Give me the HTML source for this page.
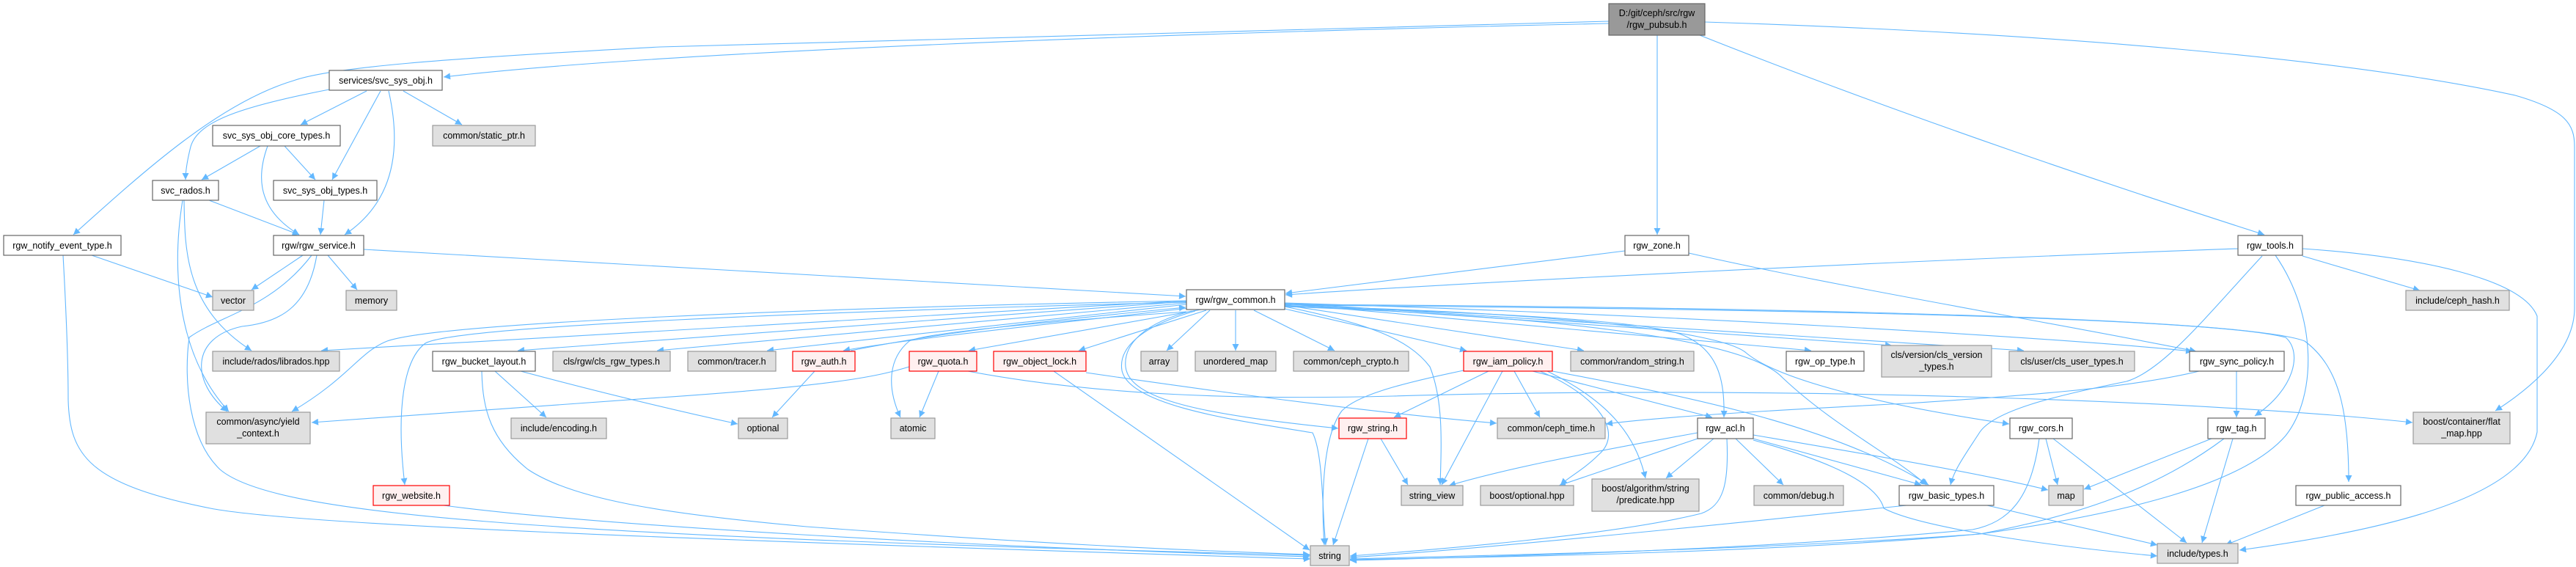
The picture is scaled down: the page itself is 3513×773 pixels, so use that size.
<!DOCTYPE html>
<html><head><meta charset="utf-8"><style>
html,body{margin:0;padding:0;background:#fff;}
svg{display:block;}
text{font-family:"Liberation Sans",Arial,sans-serif;font-size:12.5px;fill:#000;text-anchor:middle;}
.e{fill:none;stroke:#63b8ff;stroke-width:1.1;marker-end:url(#a);}
.w{fill:#fff;stroke:#666;stroke-width:1.2;}
.g{fill:#e0e0e0;stroke:#999;stroke-width:1.2;}
.r{fill:#fff0f0;stroke:#f00;stroke-width:1.2;}
.k{fill:#999;stroke:#666;stroke-width:1.2;}
</style></head><body>
<svg width="3513" height="773" viewBox="0 0 3513 773" xmlns="http://www.w3.org/2000/svg">
<defs><marker id="a" viewBox="0 0 10 10" refX="10" refY="5" markerWidth="10" markerHeight="9" markerUnits="userSpaceOnUse" orient="auto"><path d="M0,0 L10,5 L0,10 z" fill="#63b8ff"/></marker></defs>
<g>
<path class="e" d="M2194,32 C1600,45 900,70 605,105"/>
<path class="e" d="M2194,29 L900,64 C600,80 450,92 400,110 C300,140 200,230 100,320"/>
<path class="e" d="M2260,48 L2260,320"/>
<path class="e" d="M2318,48 C2600,160 2900,260 3088,320"/>
<path class="e" d="M2325,30 C2800,45 3200,80 3430,130 C3500,150 3511,170 3511,200 L3511,420 C3511,480 3450,530 3403,560"/>
<path class="e" d="M449,122 C330,145 270,165 260,200 C255,220 253,235 253,245"/>
<path class="e" d="M500,124 L410,170"/>
<path class="e" d="M519,124 L453,245"/>
<path class="e" d="M530,124 C545,190 545,270 470,320"/>
<path class="e" d="M550,124 L630,170"/>
<path class="e" d="M355,199 L275,245"/>
<path class="e" d="M388,199 L430,245"/>
<path class="e" d="M365,199 C350,240 350,285 408,320"/>
<path class="e" d="M285,273 L408,320"/>
<path class="e" d="M251,273 C252,340 252,420 343,478"/>
<path class="e" d="M249,273 C235,360 238,480 312,561"/>
<path class="e" d="M442,273 L437,320"/>
<path class="e" d="M125,348 L290,405"/>
<path class="e" d="M86,348 C90,420 93,500 93,545 C95,620 120,660 287,693 C400,715 900,735 1787,762"/>
<path class="e" d="M413,348 L343,395"/>
<path class="e" d="M447,348 L487,395"/>
<path class="e" d="M432,348 C420,420 380,440 330,445 C260,460 260,520 310,561"/>
<path class="e" d="M425,348 C370,420 300,430 258,460 C250,520 258,600 300,640 C370,700 700,730 1787,757"/>
<path class="e" d="M496,340 L1617,404"/>
<path class="e" d="M2216,342 L1753,400"/>
<path class="e" d="M2303,345 C2500,390 2800,440 2995,479"/>
<path class="e" d="M3052,339 C2600,355 2000,385 1753,402"/>
<path class="e" d="M3140,349 L3300,396"/>
<path class="e" d="M3140,339 C3300,350 3440,380 3460,431 L3460,589 C3440,690 3200,730 3054,750"/>
<path class="e" d="M3085,349 C3010,430 2950,505 2900,520 C2800,540 2720,560 2700,589 C2680,620 2665,640 2660,661"/>
<path class="e" d="M3103,348 C3160,430 3160,540 3117,594 C3060,660 2900,700 2700,728 C2400,750 2000,758 1841,762"/>
<path class="e" d="M3050,506 L3050,569"/>
<path class="e" d="M2999,506 C2900,530 2750,540 2600,550 C2400,560 2250,570 2190,578"/>
<path class="e" d="M3016,598 L2842,667"/>
<path class="e" d="M3045,598 L3003,740"/>
<path class="e" d="M3033,598 C2950,660 2850,700 2700,728 C2400,755 2000,760 1841,763"/>
<path class="e" d="M2790,598 L2806,661"/>
<path class="e" d="M2800,598 L2982,740"/>
<path class="e" d="M2781,598 C2770,680 2740,712 2690,722 C2400,750 2000,760 1841,764"/>
<path class="e" d="M3170,689 L3035,743"/>
<path class="e" d="M2710,689 L2942,743"/>
<path class="e" d="M2600,689 C2300,720 2000,750 1841,760"/>
<path class="e" d="M2315,590 C2150,620 2050,640 1976,662"/>
<path class="e" d="M2318,597 L2126,662"/>
<path class="e" d="M2337,598 L2272,652"/>
<path class="e" d="M2367,598 L2432,661"/>
<path class="e" d="M2391,598 L2620,661"/>
<path class="e" d="M2355,598 C2358,660 2350,690 2320,700 C2200,730 1950,750 1841,758"/>
<path class="e" d="M2391,600 C2500,630 2560,660 2569,693 C2620,720 2800,745 2942,758"/>
<path class="e" d="M2391,593 C2550,620 2700,645 2793,668"/>
<path class="e" d="M2030,506 L1901,569"/>
<path class="e" d="M2049,506 L1966,661"/>
<path class="e" d="M2065,506 L2100,569"/>
<path class="e" d="M2090,506 L2335,569"/>
<path class="e" d="M2100,506 C2180,540 2215,590 2180,620 C2160,640 2140,650 2128,661"/>
<path class="e" d="M2110,506 C2190,545 2230,590 2244,652"/>
<path class="e" d="M2117,506 C2300,540 2500,580 2630,661"/>
<path class="e" d="M1996,505 C1900,525 1850,540 1830,560 C1800,600 1803,700 1806,743"/>
<path class="e" d="M1883,598 L1920,661"/>
<path class="e" d="M1866,598 L1818,743"/>
<path class="e" d="M1280,506 L1254,569"/>
<path class="e" d="M1240,500 C1200,512 1150,525 900,542 C700,555 500,570 425,576"/>
<path class="e" d="M1320,506 C1500,540 1700,545 1900,540 C2400,525 3000,545 3290,576"/>
<path class="e" d="M1111,506 L1053,569"/>
<path class="e" d="M1437,506 L1786,750"/>
<path class="e" d="M1481,508 C1700,540 1900,565 2041,577"/>
<path class="e" d="M675,506 L745,569"/>
<path class="e" d="M710,506 C800,530 900,555 1006,578"/>
<path class="e" d="M657,506 C658,560 670,600 720,640 C780,680 900,700 1100,718 C1400,740 1600,750 1786,756"/>
<path class="e" d="M605,689 C800,715 1300,745 1786,759"/>
<path class="e" d="M1650,423 L1591,478"/>
<path class="e" d="M1685,423 L1685,478"/>
<path class="e" d="M1710,423 L1820,478"/>
<path class="e" d="M1645,423 L1471,478"/>
<path class="e" d="M1638,422 L1321,478"/>
<path class="e" d="M1622,420 C1450,440 1250,460 1150,478"/>
<path class="e" d="M1160,478 C1300,450 1450,435 1617,419"/>
<path class="e" d="M1618,425 C1400,440 1260,455 1240,465 C1210,490 1210,530 1228,569"/>
<path class="e" d="M1618,415 L1046,478"/>
<path class="e" d="M1618,413 L896,478"/>
<path class="e" d="M1618,411 L706,478"/>
<path class="e" d="M1618,410 L438,478"/>
<path class="e" d="M1618,410 C1100,420 600,440 528,465 C490,480 476,515 398,561"/>
<path class="e" d="M1618,412 C1100,425 620,445 580,468 C550,490 540,560 552,661"/>
<path class="e" d="M1625,424 C1560,440 1532,470 1535,500 C1540,545 1640,565 1825,584"/>
<path class="e" d="M1630,424 C1555,445 1525,475 1530,505 C1540,555 1700,575 1790,590 C1805,620 1803,700 1808,743"/>
<path class="e" d="M1752,418 C1860,440 1920,460 1950,500 C1968,545 1966,600 1964,661"/>
<path class="e" d="M1752,421 L2000,478"/>
<path class="e" d="M1752,416 L2160,478"/>
<path class="e" d="M1752,414 L2470,478"/>
<path class="e" d="M1752,414 L2580,471"/>
<path class="e" d="M1752,413 L2760,478"/>
<path class="e" d="M1752,413 C2300,430 2800,460 2990,479"/>
<path class="e" d="M1752,418 C2000,425 2230,435 2290,455 C2345,475 2352,520 2351,569"/>
<path class="e" d="M1752,417 C2100,425 2340,450 2380,480 C2420,515 2550,550 2740,578"/>
<path class="e" d="M1752,416 C2300,420 3000,430 3117,460 C3140,480 3130,530 3075,567"/>
<path class="e" d="M1752,415 C2300,418 3050,430 3143,465 C3190,500 3203,560 3203,657"/>
<path class="e" d="M1752,418 C2100,430 2380,460 2431,515 C2500,580 2580,620 2627,661"/>
</g>
<g>
<rect class="k" x="2194" y="5" width="131" height="43"/><text x="2259.5" y="22">D:/git/ceph/src/rgw</text><text x="2259.5" y="38">/rgw_pubsub.h</text>
<rect class="w" x="449" y="96" width="154" height="27"/><text x="526" y="114">services/svc_sys_obj.h</text>
<rect class="g" x="590" y="171" width="140" height="28"/><text x="660" y="189">common/static_ptr.h</text>
<rect class="w" x="290" y="171" width="174" height="28"/><text x="377" y="189">svc_sys_obj_core_types.h</text>
<rect class="w" x="208" y="246" width="90" height="27"/><text x="253" y="264">svc_rados.h</text>
<rect class="w" x="373" y="246" width="141" height="27"/><text x="443.5" y="264">svc_sys_obj_types.h</text>
<rect class="w" x="5" y="321" width="160" height="27"/><text x="85" y="339">rgw_notify_event_type.h</text>
<rect class="w" x="373" y="321" width="123" height="27"/><text x="434.5" y="339">rgw/rgw_service.h</text>
<rect class="w" x="2216" y="321" width="87" height="27"/><text x="2259.5" y="339">rgw_zone.h</text>
<rect class="w" x="3052" y="321" width="88" height="27"/><text x="3096" y="339">rgw_tools.h</text>
<rect class="g" x="290" y="396" width="56" height="27"/><text x="318" y="414">vector</text>
<rect class="g" x="472" y="396" width="69" height="27"/><text x="506.5" y="414">memory</text>
<rect class="w" x="1618" y="395" width="134" height="27"/><text x="1685" y="413">rgw/rgw_common.h</text>
<rect class="g" x="3281" y="396" width="141" height="27"/><text x="3351.5" y="414">include/ceph_hash.h</text>
<rect class="g" x="290" y="479" width="173" height="27"/><text x="376.5" y="497">include/rados/librados.hpp</text>
<rect class="w" x="590" y="479" width="140" height="27"/><text x="660" y="497">rgw_bucket_layout.h</text>
<rect class="g" x="754" y="479" width="160" height="27"/><text x="834" y="497">cls/rgw/cls_rgw_types.h</text>
<rect class="g" x="938" y="479" width="120" height="27"/><text x="998" y="497">common/tracer.h</text>
<rect class="r" x="1081" y="479" width="85" height="27"/><text x="1123.5" y="497">rgw_auth.h</text>
<rect class="r" x="1240" y="479" width="92" height="27"/><text x="1286" y="497">rgw_quota.h</text>
<rect class="r" x="1355" y="479" width="126" height="27"/><text x="1418" y="497">rgw_object_lock.h</text>
<rect class="g" x="1556" y="479" width="50" height="27"/><text x="1581" y="497">array</text>
<rect class="g" x="1630" y="479" width="110" height="27"/><text x="1685" y="497">unordered_map</text>
<rect class="g" x="1764" y="479" width="157" height="27"/><text x="1842.5" y="497">common/ceph_crypto.h</text>
<rect class="r" x="1996" y="479" width="121" height="27"/><text x="2056.5" y="497">rgw_iam_policy.h</text>
<rect class="g" x="2142" y="479" width="168" height="27"/><text x="2226" y="497">common/random_string.h</text>
<rect class="w" x="2436" y="479" width="106" height="27"/><text x="2489" y="497">rgw_op_type.h</text>
<rect class="g" x="2566" y="471" width="150" height="43"/><text x="2641" y="488">cls/version/cls_version</text><text x="2641" y="504">_types.h</text>
<rect class="g" x="2740" y="479" width="171" height="27"/><text x="2825.5" y="497">cls/user/cls_user_types.h</text>
<rect class="w" x="2986" y="479" width="129" height="27"/><text x="3050.5" y="497">rgw_sync_policy.h</text>
<rect class="g" x="281" y="562" width="142" height="43"/><text x="352" y="579">common/async/yield</text><text x="352" y="595">_context.h</text>
<rect class="g" x="697" y="570" width="130" height="28"/><text x="762" y="588">include/encoding.h</text>
<rect class="g" x="1007" y="570" width="67" height="28"/><text x="1040.5" y="588">optional</text>
<rect class="g" x="1215" y="570" width="60" height="28"/><text x="1245" y="588">atomic</text>
<rect class="r" x="1826" y="570" width="92" height="28"/><text x="1872" y="588">rgw_string.h</text>
<rect class="g" x="2042" y="570" width="147" height="28"/><text x="2115.5" y="588">common/ceph_time.h</text>
<rect class="w" x="2315" y="570" width="76" height="28"/><text x="2353" y="588">rgw_acl.h</text>
<rect class="w" x="2741" y="570" width="85" height="28"/><text x="2783.5" y="588">rgw_cors.h</text>
<rect class="w" x="3011" y="570" width="78" height="28"/><text x="3050" y="588">rgw_tag.h</text>
<rect class="g" x="3291" y="562" width="132" height="43"/><text x="3357" y="579">boost/container/flat</text><text x="3357" y="595">_map.hpp</text>
<rect class="r" x="509" y="662" width="104" height="27"/><text x="561" y="680">rgw_website.h</text>
<rect class="g" x="1911" y="662" width="84" height="27"/><text x="1953" y="680">string_view</text>
<rect class="g" x="2019" y="662" width="127" height="27"/><text x="2082.5" y="680">boost/optional.hpp</text>
<rect class="g" x="2171" y="653" width="146" height="44"/><text x="2244" y="670">boost/algorithm/string</text><text x="2244" y="686">/predicate.hpp</text>
<rect class="g" x="2392" y="662" width="122" height="27"/><text x="2453" y="680">common/debug.h</text>
<rect class="w" x="2590" y="662" width="129" height="27"/><text x="2654.5" y="680">rgw_basic_types.h</text>
<rect class="g" x="2794" y="662" width="47" height="27"/><text x="2817.5" y="680">map</text>
<rect class="w" x="3131" y="662" width="143" height="27"/><text x="3202.5" y="680">rgw_public_access.h</text>
<rect class="g" x="1787" y="744" width="53" height="27"/><text x="1813.5" y="762">string</text>
<rect class="g" x="2942" y="741" width="110" height="27"/><text x="2997" y="759">include/types.h</text>
</g>
</svg>
</body></html>
